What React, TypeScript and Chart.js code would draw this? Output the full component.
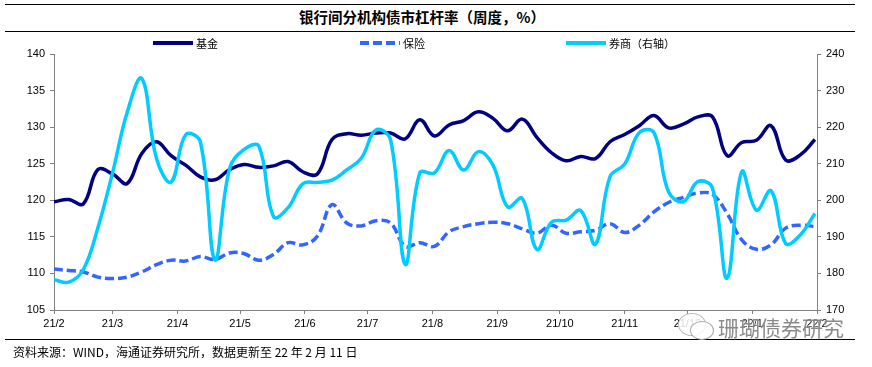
import React, { useEffect, useRef } from 'react';
import { Chart, registerables } from 'chart.js';

Chart.register(...registerables);

// Weekly observation dates (Fridays)
const weekDates: string[] = [
  '2021-02-12', '2021-02-19', '2021-02-26', '2021-03-05', '2021-03-12', '2021-03-19', '2021-03-26',
  '2021-04-02', '2021-04-09', '2021-04-16', '2021-04-23', '2021-04-30', '2021-05-07', '2021-05-14',
  '2021-05-21', '2021-05-28', '2021-06-04', '2021-06-11', '2021-06-18', '2021-06-25', '2021-07-02',
  '2021-07-09', '2021-07-16', '2021-07-23', '2021-07-30', '2021-08-06', '2021-08-13', '2021-08-20',
  '2021-08-27', '2021-09-03', '2021-09-10', '2021-09-17', '2021-09-24', '2021-10-01', '2021-10-08',
  '2021-10-15', '2021-10-22', '2021-10-29', '2021-11-05', '2021-11-12', '2021-11-19', '2021-11-26',
  '2021-12-03', '2021-12-10', '2021-12-17', '2021-12-24', '2021-12-31', '2022-01-07', '2022-01-14',
  '2022-01-21', '2022-01-28', '2022-02-04', '2022-02-11',
];

// 基金 (left axis)
const fundValues: number[] = [
  119.8, 120.1, 119.5, 124.2, 123.6, 122.3, 126.4, 128.0, 126.1, 124.8, 123.2, 122.8, 124.2, 124.9,
  124.5, 124.7, 125.3, 123.9, 123.6, 128.3, 129.1, 128.9, 129.2, 129.2, 128.4, 131.0, 128.8, 130.3,
  130.9, 132.1, 131.2, 129.5, 131.1, 128.6, 126.5, 125.4, 126.0, 125.7, 128.0, 129.0, 130.2, 131.6,
  129.9, 130.4, 131.4, 131.4, 126.1, 127.9, 128.2, 130.2, 125.5, 126.2, 128.3,
];

// 保险 (left axis)
const insuranceValues: number[] = [
  110.6, 110.4, 110.2, 109.5, 109.3, 109.5, 110.2, 111.2, 111.8, 111.7, 112.3, 111.9, 112.8, 112.7,
  111.8, 112.6, 114.2, 113.9, 115.1, 119.4, 116.9, 116.5, 117.2, 116.9, 113.7, 114.2, 113.7, 115.7,
  116.4, 116.8, 117.0, 116.8, 116.1, 115.5, 116.6, 115.5, 115.7, 115.9, 116.8, 115.6, 116.6, 118.4,
  119.7, 120.4, 121.0, 120.8, 118.2, 114.6, 113.3, 113.9, 116.2, 116.6, 116.4,
];

// 券商 (right axis)
const brokerValues: number[] = [
  178.3, 177.6, 181.0, 192.5, 207.5, 224.0, 233.3, 211.5, 205.0, 217.9, 216.0, 183.7, 208.7, 213.9,
  214.8, 195.5, 198.0, 204.5, 204.9, 205.5, 208.3, 211.5, 219.2, 216.5, 182.5, 207.5, 207.5, 213.6,
  208.3, 213.3, 209.6, 198.2, 200.5, 186.6, 194.0, 194.6, 197.2, 188.0, 206.5, 209.9, 218.5, 218.5,
  202.3, 199.6, 205.1, 203.3, 178.7, 207.8, 197.3, 202.6, 188.2, 190.5, 196.4,
];

const tickDates: string[] = [
  '2021-02-12', '2021-03-12', '2021-04-12', '2021-05-12', '2021-06-12', '2021-07-12', '2021-08-12',
  '2021-09-12', '2021-10-12', '2021-11-12', '2021-12-12', '2022-01-12', '2022-02-12',
];
const tickLabels: string[] = [
  '21/2', '21/3', '21/4', '21/5', '21/6', '21/7', '21/8', '21/9', '21/10', '21/11', '21/12', '22/1', '22/2',
];

const seriesNames = ['基金', '保险', '券商（右轴）'];
const colors = ['#000080', '#3366FF', '#00CCFF'];

const baseTime = Date.parse(weekDates[0]);
const toDay = (d: string) => Math.round((Date.parse(d) - baseTime) / 86400000);

const latin = '"Liberation Sans", Arial, sans-serif';
const cjk = '"Noto Sans CJK SC", "Liberation Sans", sans-serif';

export default function App() {
  const canvasRef = useRef<HTMLCanvasElement | null>(null);

  useEffect(() => {
    if (!canvasRef.current) return;
    const mk = (vals: number[]) => weekDates.map((d, i) => ({ x: toDay(d), y: vals[i] }));
    const chart = new Chart(canvasRef.current, {
      type: 'line',
      data: {
        datasets: [
          {
            label: seriesNames[0],
            data: mk(fundValues),
            yAxisID: 'y',
            borderColor: colors[0],
            borderWidth: 3.5,
            pointRadius: 0,
            tension: 0.4,
            fill: false,
            order: 2,
          },
          {
            label: seriesNames[1],
            data: mk(insuranceValues),
            yAxisID: 'y',
            borderColor: colors[1],
            borderWidth: 3.5,
            borderDash: [9, 4],
            pointRadius: 0,
            tension: 0.4,
            fill: false,
            order: 1,
          },
          {
            label: seriesNames[2],
            data: mk(brokerValues),
            yAxisID: 'y1',
            borderColor: colors[2],
            borderWidth: 3.5,
            pointRadius: 0,
            tension: 0.4,
            fill: false,
            order: 0,
          },
        ],
      },
      options: {
        animation: false,
        responsive: false,
        maintainAspectRatio: false,
        layout: { padding: { top: 54, left: 0, right: 0, bottom: 0 } },
        plugins: { legend: { display: false }, tooltip: { enabled: false }, title: { display: false } },
        scales: {
          x: {
            type: 'linear',
            min: 0,
            max: 365,
            afterBuildTicks: (s: any) => {
              s.ticks = tickDates.map((d) => ({ value: toDay(d) }));
            },
            afterFit: (s: any) => {
              s.height = 57;
            },
            ticks: {
              autoSkip: false,
              maxRotation: 0,
              padding: 3,
              color: '#000',
              font: { family: latin, size: 11 },
              callback: (_v: any, i: number) => tickLabels[i],
            },
            grid: { display: true, drawOnChartArea: false, drawTicks: true, tickLength: 4, color: '#808080' },
            border: { color: '#808080', width: 1 },
          },
          y: {
            position: 'left',
            min: 105,
            max: 140,
            afterFit: (s: any) => {
              s.width = 54;
            },
            ticks: { stepSize: 5, padding: 5, color: '#000', font: { family: latin, size: 11 } },
            grid: { display: true, drawOnChartArea: false, drawTicks: true, tickLength: 4, color: '#808080' },
            border: { color: '#808080', width: 1 },
          },
          y1: {
            position: 'right',
            min: 170,
            max: 240,
            afterFit: (s: any) => {
              s.width = 55;
            },
            ticks: { stepSize: 10, padding: 5, color: '#000', font: { family: latin, size: 11 } },
            grid: { display: true, drawOnChartArea: false, drawTicks: true, tickLength: 4, color: '#808080' },
            border: { color: '#808080', width: 1 },
          },
        },
      },
    });
    return () => chart.destroy();
  }, []);

  const legendItem = (i: number, left: number, dashed: boolean) => (
    <div
      key={i}
      style={{ position: 'absolute', left, top: 36, height: 14, display: 'flex', alignItems: 'center' }}
    >
      <svg width={42} height={8} style={{ display: 'block' }}>
        <line
          x1={1}
          y1={4}
          x2={41}
          y2={4}
          stroke={colors[i]}
          strokeWidth={4}
          strokeDasharray={dashed ? '9 4' : undefined}
        />
      </svg>
      <span style={{ fontFamily: cjk, fontSize: 11, color: '#000', marginLeft: 2, lineHeight: '14px' }}>
        {seriesNames[i]}
      </span>
    </div>
  );

  return (
    <div style={{ position: 'absolute', left: 0, top: 0, width: 872, height: 367, background: '#fff', overflow: 'hidden' }}>
      <div style={{ position: 'absolute', left: 5, top: 4, width: 850, height: 0, borderTop: '1.5px solid #000' }} />
      <div
        style={{
          position: 'absolute',
          left: 0,
          top: 8,
          width: 844,
          textAlign: 'center',
          fontFamily: cjk,
          fontWeight: 'bold',
          fontSize: 14.5,
          lineHeight: '17px',
          color: '#000',
        }}
      >
        银行间分机构债市杠杆率（周度，%）
      </div>
      <div style={{ position: 'absolute', left: 5, top: 31, width: 850, height: 0, borderTop: '1.5px solid #000' }} />
      <canvas ref={canvasRef} width={872} height={367} style={{ position: 'absolute', left: 0, top: 0, width: 872, height: 367 }} />
      {legendItem(0, 152, false)}
      {legendItem(1, 359, true)}
      {legendItem(2, 565, false)}
      <div style={{ position: 'absolute', left: 5, top: 339, width: 850, height: 0, borderTop: '1.5px solid #000' }} />
      <div
        style={{
          position: 'absolute',
          left: 13,
          top: 345,
          fontFamily: cjk,
          fontSize: 12,
          lineHeight: '14px',
          color: '#000',
          whiteSpace: 'nowrap',
        }}
      >
        资料来源：WIND，海通证券研究所，数据更新至 22 年 2 月 11 日
      </div>
      {/* watermark */}
      <div style={{ position: 'absolute', left: 678, top: 313, width: 26, height: 21, borderRadius: '50%', border: '1.5px solid #bbb', background: 'rgba(255,255,255,0.85)' }} />
      <div style={{ position: 'absolute', left: 690, top: 321, width: 22, height: 17, borderRadius: '50%', border: '1.5px solid #aaa', background: 'rgba(255,255,255,0.85)' }} />
      <div
        style={{
          position: 'absolute',
          left: 718,
          top: 315,
          fontFamily: cjk,
          fontSize: 21,
          lineHeight: '24px',
          color: 'rgba(110,110,110,0.8)',
          whiteSpace: 'nowrap',
          textShadow: '0 0 2px #fff',
        }}
      >
        珊瑚债券研究
      </div>
    </div>
  );
}
